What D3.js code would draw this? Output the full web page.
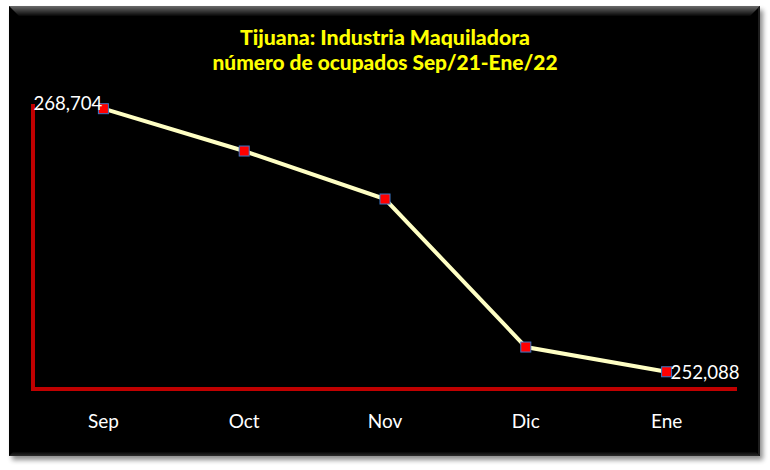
<!DOCTYPE html>
<html><head><meta charset="utf-8">
<script src="https://cdn.jsdelivr.net/npm/d3@7"></script>
<style>html,body{margin:0;padding:0;background:#fff;}svg{display:block;}</style>
</head><body>
<script>
const months = ["Sep", "Oct", "Nov", "Dic", "Ene"];
const ocupados = [268704, 266030, 263000, 253650, 252088];
const titleLines = ["Tijuana: Industria Maquiladora", "número de ocupados Sep/21-Ene/22"];
const yDomain = [251000, 269000];

const W = 770, H = 470;
const svg = d3.select("body").append("svg").attr("width", W).attr("height", H);
const defs = svg.append("defs");
const f = defs.append("filter").attr("id", "sh").attr("x", "-5%").attr("y", "-5%").attr("width", "115%").attr("height", "115%");
f.append("feGaussianBlur").attr("in", "SourceAlpha").attr("stdDeviation", 2.5).attr("result", "b");
f.append("feOffset").attr("in", "b").attr("dx", 3).attr("dy", 4).attr("result", "o");
f.append("feComponentTransfer").attr("in", "o").attr("result", "o2").append("feFuncA").attr("type", "linear").attr("slope", 0.45);
const m = f.append("feMerge"); m.append("feMergeNode").attr("in", "o2"); m.append("feMergeNode").attr("in", "SourceGraphic");

const px = 9, py = 6, pw = 751, ph = 450;
const gTop = defs.append("linearGradient").attr("id", "gt").attr("x1", 0).attr("y1", 0).attr("x2", 0).attr("y2", 1);
gTop.append("stop").attr("offset", 0).attr("stop-color", "#6a6a6a");
gTop.append("stop").attr("offset", 1).attr("stop-color", "#060606");
const gBot = defs.append("linearGradient").attr("id", "gb").attr("x1", 0).attr("y1", 0).attr("x2", 0).attr("y2", 1);
gBot.append("stop").attr("offset", 0).attr("stop-color", "#060606");
gBot.append("stop").attr("offset", 1).attr("stop-color", "#2a2a2a");

svg.append("rect").attr("x", px).attr("y", py).attr("width", pw).attr("height", ph)
  .attr("fill", "#060606").attr("filter", "url(#sh)");
svg.append("path").attr("d", `M${px},${py} L${px+pw},${py} L${px+pw-10},${py+10} L${px+10},${py+10} Z`).attr("fill", "url(#gt)");
svg.append("path").attr("d", `M${px},${py+ph} L${px+pw},${py+ph} L${px+pw-4},${py+ph-4} L${px+4},${py+ph-4} Z`).attr("fill", "url(#gb)");
svg.append("path").attr("d", `M${px+pw},${py} L${px+pw},${py+ph} L${px+pw-2},${py+ph-2} L${px+pw-2},${py+2} Z`).attr("fill", "#1e1e1e");

const font = "Lato, 'Open Sans', sans-serif";
const tw = [290, 345];
svg.selectAll("text.title").data(titleLines).join("text").attr("class", "title")
  .attr("x", 385).attr("y", (d, i) => 45 + i * 25)
  .attr("text-anchor", "middle").attr("fill", "#ffff00")
  .attr("font-family", font).attr("font-weight", 900).attr("font-size", 21)
  .attr("textLength", (d, i) => tw[i]).attr("lengthAdjust", "spacingAndGlyphs")
  .text(d => d);

const x = d3.scaleBand().domain(months).range([33, 737]);
const y = d3.scaleLinear().domain(yDomain).range([389, 104]);

const xAxis = svg.append("g").attr("transform", "translate(0,389)")
  .call(d3.axisBottom(x).tickSize(0).tickPadding(26));
xAxis.select(".domain").attr("stroke", "#c00000").attr("stroke-width", 4).attr("d", "M33,0H737");
xAxis.selectAll("text").attr("fill", "#ffffff").attr("font-family", font).attr("font-size", 19);

const yAxis = svg.append("g").attr("transform", "translate(33,0)")
  .call(d3.axisLeft(y).tickValues([]).tickSize(0));
yAxis.select(".domain").attr("stroke", "#c00000").attr("stroke-width", 4).attr("d", "M0,104V391");

const data = months.map((mo, i) => ({ mo, v: ocupados[i] }));
svg.append("path").datum(data)
  .attr("fill", "none").attr("stroke", "#ffffc4").attr("stroke-width", 4)
  .attr("d", d3.line().x(d => x(d.mo) + x.bandwidth() / 2).y(d => y(d.v)));

svg.selectAll("rect.mk").data(data).join("rect").attr("class", "mk")
  .attr("x", d => x(d.mo) + x.bandwidth() / 2 - 5).attr("y", d => y(d.v) - 5)
  .attr("width", 10).attr("height", 10)
  .attr("fill", "#ff0000").attr("stroke", "#3a78c8").attr("stroke-width", 1);

const fmt = d3.format(",");
const first = data[0], last = data[data.length - 1];
svg.append("text").attr("x", x(first.mo) + x.bandwidth() / 2 - 1).attr("y", y(first.v) + 1)
  .attr("text-anchor", "end").attr("fill", "#fff").attr("font-family", font).attr("font-size", 20)
  .attr("textLength", 69).attr("lengthAdjust", "spacingAndGlyphs")
  .text(fmt(first.v));
svg.append("text").attr("x", x(last.mo) + x.bandwidth() / 2 + 4).attr("y", y(last.v) + 7)
  .attr("text-anchor", "start").attr("fill", "#fff").attr("font-family", font).attr("font-size", 20)
  .attr("textLength", 69).attr("lengthAdjust", "spacingAndGlyphs")
  .text(fmt(last.v));
</script>
</body></html>
